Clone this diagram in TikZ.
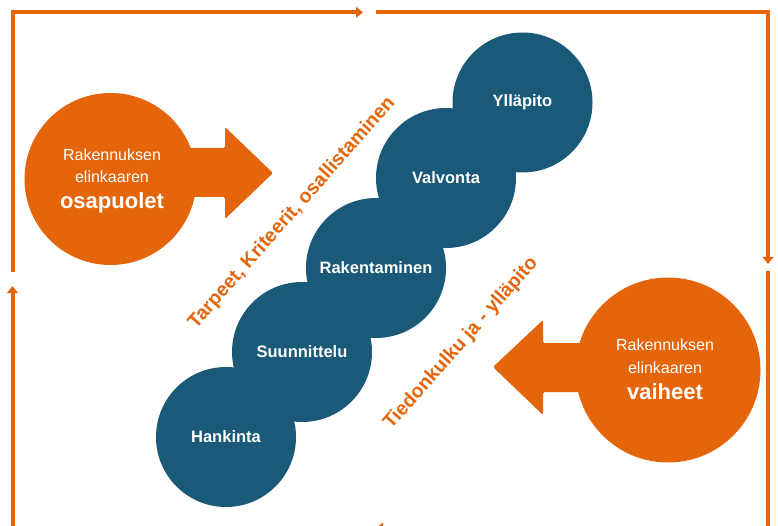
\documentclass[tikz,border=0pt]{standalone}
\usepackage{fontspec}
\setmainfont{Liberation Sans}
\usetikzlibrary{arrows.meta}
\definecolor{lcorange}{HTML}{E4650A}
\definecolor{lcblue}{HTML}{1A5A78}
\newcommand\bigwordfont{\bfseries\fontsize{22}{26}\selectfont}

\tikzset{
  framearrow/.style={draw=lcorange, line width=4pt, line join=miter,
    -{Triangle[length=7pt,width=10.6pt]}},
  phase/.style={circle, fill=lcblue, minimum size=140pt, inner sep=0pt,
    text=white, font=\bfseries\fontsize{16.5}{19}\selectfont},
  party/.style={circle, fill=lcorange, inner sep=0pt},
  partytext/.style={text=white, align=center, inner sep=0pt,
    font=\fontsize{16}{22.3}\selectfont},
  flowtext/.style={text=lcorange, inner sep=0pt,
    font=\bfseries\fontsize{19.5}{22}\selectfont},
}

\begin{document}
\begin{tikzpicture}[x=1pt, y=-1pt]
  \useasboundingbox (0,0) rectangle (778,526);
  \clip (0,0) rectangle (778,526);

  % outer cycle frame
  \coordinate (fL1) at (12.5,272);
  \coordinate (fT1) at (363,12.3);
  \coordinate (fT2) at (376,12.3);
  \coordinate (fR1) at (768,264);
  \coordinate (fR2) at (768,271);
  \coordinate (fB1) at (376,528);
  \coordinate (fB2) at (363,528);
  \coordinate (fL2) at (12.5,286);
  \draw[framearrow] (fL1) |- (fT1);
  \draw[framearrow] (fT2) -| (fR1);
  \draw[framearrow] (fR2) |- (fB1);
  \draw[framearrow] (fB2) -| (fL2);

  % life-cycle phases
  \node[phase] (hank) at (226,437) {Hankinta};
  \node[phase] (suun) at (302,352) {Suunnittelu};
  \node[phase] (rake) at (376,268) {Rakentaminen};
  \node[phase] (valv) at (446,178) {Valvonta};
  \node[phase] (yllp) at (522.5,102.5) {Ylläpito};

  % parties, with arrow pointing in
  \node[party, minimum size=172pt] (osa) at (110.5,179) {};
  \begin{scope}[shift={(osa.center)}]
    \fill[lcorange, rounded corners=1.5pt]
      (0,-31) -- (114.5,-31) -- (114.5,-52) -- (162.5,-6)
      -- (114.5,40) -- (114.5,18) -- (0,18) -- cycle;
  \end{scope}
  \node[partytext] (osaText) at (112,181.3)
    {Rakennuksen\\elinkaaren\\[3.7pt]{\bigwordfont osapuolet}};

  % phases circle, with arrow pointing in
  \node[party, minimum size=185pt] (vai) at (668,370) {};
  \begin{scope}[shift={(vai.center)}]
    \fill[lcorange, rounded corners=1.5pt]
      (0,-27) -- (-125,-27) -- (-125,-50) -- (-175,-3)
      -- (-125,45) -- (-125,22) -- (0,22) -- cycle;
  \end{scope}
  \node[partytext] (vaiText) at (665,369.3)
    {Rakennuksen\\elinkaaren\\[3.7pt]{\bigwordfont vaiheet}};

  % diagonal flow labels
  \node[flowtext, rotate=48.5] (needs) at (292,213)
    {Tarpeet, Kriteerit, osallistaminen};
  \node[flowtext, rotate=48.5] (info) at (461,343.5)
    {Tiedonkulku ja - ylläpito};
\end{tikzpicture}
\end{document}
